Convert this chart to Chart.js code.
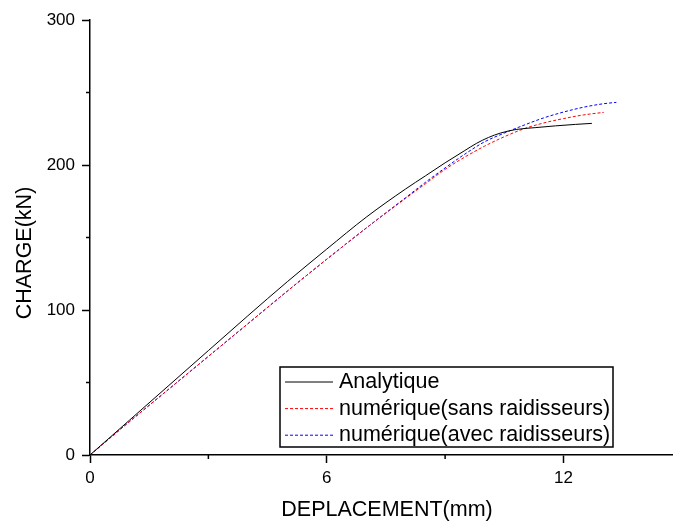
<!DOCTYPE html>
<html lang="fr">
  <head>
    <meta charset="UTF-8" />
    <title>Charge - déplacement</title>
    <script src="https://cdn.jsdelivr.net/npm/chart.js"></script>
    <style>
      html, body { margin: 0; padding: 0; background: #fff; }
      .chart-box { width: 673px; height: 527px; }
    </style>
  </head>
  <body>
    <div class="chart-box">
      <canvas id="myChart"></canvas>
    </div>
    <script>
      // courbes
      const analytiqueX = [0, 1, 2, 3, 4, 5, 6, 7, 8, 8.5, 9, 9.5, 9.8, 10.1, 10.4, 10.8, 11.3, 11.8, 12.3, 12.72];
      const analytiqueY = [0, 24, 48, 72, 96, 119.5, 142, 164, 183.5, 192.5, 201.5, 210, 215, 219, 222, 224.5, 225.8, 227, 228, 228.7];

      const sansX = [0, 1, 2, 3, 4, 5, 6, 7, 8, 8.5, 9, 9.5, 10, 10.5, 11, 11.5, 12, 12.5, 13.02];
      const sansY = [0, 23, 45.5, 68, 90.5, 113, 135, 156.5, 177, 187, 197, 205.5, 213, 219.5, 225, 229, 232, 234.5, 236.3];

      const avecX = [0, 1, 2, 3, 4, 5, 6, 7, 8, 8.5, 9, 9.5, 10, 10.5, 11, 11.5, 12, 12.5, 13, 13.34];
      const avecY = [0, 23, 45.5, 68, 90.5, 113, 135, 156.5, 177.5, 188, 198, 207.5, 216, 222, 227.5, 232.5, 236.5, 239.8, 242.2, 243.2];

      const xTicks = [0, 3, 6, 9, 12];
      const xLabels = [0, 6, 12];
      const yTicks = [0, 50, 100, 150, 200, 250, 300];
      const yLabels = [0, 100, 200, 300];

      const xTitle = "DEPLACEMENT(mm)";
      const yTitle = "CHARGE(kN)";

      const toPoints = (xs, ys) => xs.map((x, i) => ({ x: x, y: ys[i] }));
      const FONT = "'Liberation Sans', Arial, sans-serif";

      // petits traits, titres des axes et légende encadrée
      const extras = {
        id: "extras",
        afterDraw(chart) {
          const c = chart.ctx;
          const xs = chart.scales.x;
          const ys = chart.scales.y;
          c.save();
          c.strokeStyle = "#000";
          c.lineWidth = 1.5;
          xTicks.filter((v) => !xLabels.includes(v)).forEach((v) => {
            const px = xs.getPixelForValue(v);
            c.beginPath();
            c.moveTo(px, xs.top);
            c.lineTo(px, xs.top + 4);
            c.stroke();
          });
          yTicks.filter((v) => !yLabels.includes(v)).forEach((v) => {
            const py = ys.getPixelForValue(v);
            c.beginPath();
            c.moveTo(ys.right, py);
            c.lineTo(ys.right - 4, py);
            c.stroke();
          });

          // titres
          c.fillStyle = "#000";
          c.font = "21.5px " + FONT;
          c.textAlign = "center";
          c.textBaseline = "middle";
          c.fillText(xTitle, 387, 510);
          c.save();
          c.translate(25, 253);
          c.rotate(-Math.PI / 2);
          c.fillText(yTitle, 0, 0);
          c.restore();

          // légende
          c.textAlign = "left";
          c.lineWidth = 1.5;
          c.strokeRect(280, 367, 333, 80);
          chart.data.datasets.forEach((ds, i) => {
            const y = 382 + i * 26.6;
            c.beginPath();
            c.lineWidth = 1;
            c.strokeStyle = ds.borderColor;
            c.setLineDash(ds.borderDash || []);
            c.moveTo(285, y);
            c.lineTo(333, y);
            c.stroke();
            c.setLineDash([]);
            c.fillText(ds.label, 339, y);
          });
          c.restore();
        },
      };

      const ctx = document.getElementById("myChart");
      const myChart = new Chart(ctx, {
        type: "line",
        data: {
          datasets: [
            {
              label: "Analytique",
              data: toPoints(analytiqueX, analytiqueY),
              borderColor: "#000000",
              borderWidth: 1,
            },
            {
              label: "numérique(sans raidisseurs)",
              data: toPoints(sansX, sansY),
              borderColor: "#ff0000",
              borderWidth: 1,
              borderDash: [3, 2],
            },
            {
              label: "numérique(avec raidisseurs)",
              data: toPoints(avecX, avecY),
              borderColor: "#0000ff",
              borderWidth: 1,
              borderDash: [3, 2],
            },
          ],
        },
        options: {
          responsive: true,
          maintainAspectRatio: false,
          animation: false,
          layout: { padding: { top: 20, right: 1, left: 0, bottom: 0 } },
          elements: {
            point: { radius: 0 },
            line: { cubicInterpolationMode: "monotone" },
          },
          plugins: {
            legend: { display: false },
            tooltip: { enabled: false },
          },
          scales: {
            x: {
              type: "linear",
              min: 0,
              max: 14.75,
              afterBuildTicks: (s) => {
                s.ticks = xTicks.map((v) => ({ value: v }));
              },
              afterFit: (s) => {
                s.height = 72;
              },
              ticks: {
                callback: (v) => (xLabels.includes(v) ? v : ""),
                color: "#000",
                font: { family: FONT, size: 17 },
                padding: 5,
                maxRotation: 0,
                autoSkip: false,
              },
              grid: {
                drawOnChartArea: false,
                drawTicks: true,
                tickLength: 8,
                tickWidth: 1.5,
                tickColor: (c) => (c.tick && xLabels.includes(c.tick.value) ? "#000" : "rgba(0,0,0,0)"),
              },
              border: { display: true, color: "#000", width: 1.5 },
            },
            y: {
              min: 0,
              max: 300,
              afterBuildTicks: (s) => {
                s.ticks = yTicks.map((v) => ({ value: v }));
              },
              afterFit: (s) => {
                s.width = 90;
              },
              ticks: {
                callback: (v) => (yLabels.includes(v) ? v : ""),
                color: "#000",
                font: { family: FONT, size: 17 },
                padding: 7,
                autoSkip: false,
              },
              grid: {
                drawOnChartArea: false,
                drawTicks: true,
                tickLength: 8,
                tickWidth: 1.5,
                tickColor: (c) => (c.tick && yLabels.includes(c.tick.value) ? "#000" : "rgba(0,0,0,0)"),
              },
              border: { display: true, color: "#000", width: 1.5 },
            },
          },
        },
        plugins: [extras],
      });
    </script>
  </body>
</html>
